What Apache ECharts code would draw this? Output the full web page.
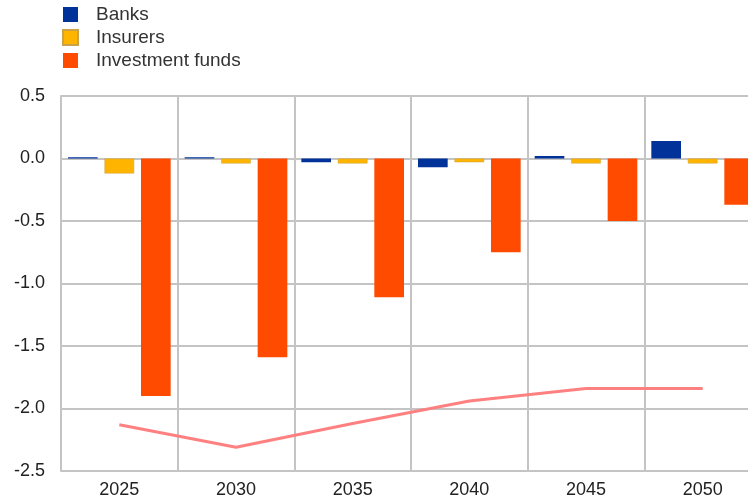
<!DOCTYPE html>
<html>
<head>
<meta charset="utf-8">
<script src="https://cdn.jsdelivr.net/npm/echarts@6/dist/echarts.min.js"></script>
<style>
html, body { margin: 0; padding: 0; background: #fff; }
#main { width: 748px; height: 498px; }
</style>
</head>
<body>
<div id="main"></div>
<script>
var years = ['2025', '2030', '2035', '2040', '2045', '2050'];
var banks = [0.01, 0.01, -0.03, -0.07, 0.02, 0.14];
var insurers = [-0.12, -0.04, -0.04, -0.03, -0.04, -0.04];
var funds = [-1.90, -1.59, -1.11, -0.75, -0.50, -0.37];
var total = [-2.13, -2.31, -2.12, -1.94, -1.84, -1.84];
var yTicks = { min: -2.5, max: 0.5, step: 0.5 };

var myChart = echarts.init(document.getElementById('main'));
var gridColor = '#c4c4c4';

var option = {
    animation: false,
    textStyle: { fontFamily: 'Liberation Sans, Arial, sans-serif' },
    legend: {
        orient: 'vertical',
        left: 57,
        top: 0,
        itemWidth: 15,
        itemHeight: 15,
        itemGap: 4,
        icon: 'rect',
        data: ['Banks', 'Insurers', 'Investment funds'],
        textStyle: { fontSize: 19, color: '#333', padding: [0, 0, 0, 13] }
    },
    grid: { left: 61, width: 700, top: 96, bottom: 27, outerBoundsMode: 'none', containLabel: false },
    xAxis: {
        type: 'category',
        data: years,
        boundaryGap: true,
        axisLine: { show: true, lineStyle: { color: gridColor, width: 2 } },
        axisTick: { show: false },
        axisLabel: { fontSize: 18, color: '#222', margin: 10 },
        splitLine: { show: true, lineStyle: { color: gridColor, width: 2 } }
    },
    yAxis: {
        type: 'value',
        min: yTicks.min,
        max: yTicks.max,
        interval: yTicks.step,
        axisLine: { show: true, lineStyle: { color: gridColor, width: 2 } },
        axisTick: { show: false },
        axisLabel: {
            fontSize: 18, color: '#222', margin: 16,
            formatter: function (v) { return v.toFixed(1); }
        },
        splitLine: { lineStyle: { color: gridColor, width: 2 } }
    },
    series: [
        {
            name: 'Banks', type: 'bar', data: banks,
            barGap: '23%', barCategoryGap: '12%',
            itemStyle: { color: '#003299' }
        },
        {
            name: 'Insurers', type: 'bar', data: insurers,
            itemStyle: { color: '#ffb400', borderColor: '#c9a24a', borderWidth: 0.5 }
        },
        {
            name: 'Investment funds', type: 'bar', data: funds,
            itemStyle: { color: '#ff4b00' }
        },
        {
            name: 'Total', type: 'line', data: total,
            showSymbol: false, symbol: 'none',
            lineStyle: { color: '#ff8080', width: 3 },
            itemStyle: { color: '#ff8080' }
        }
    ]
};
myChart.setOption(option);
</script>
</body>
</html>
